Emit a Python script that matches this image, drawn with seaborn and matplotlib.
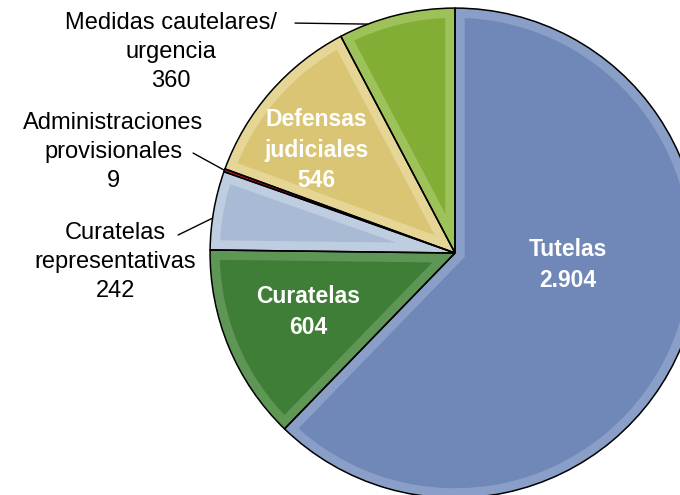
import numpy as np
import seaborn as sns
import matplotlib.pyplot as plt
from matplotlib.patches import Wedge

# datos del gráfico
categorias = ['Tutelas', 'Curatelas', 'Curatelas representativas',
              'Administraciones provisionales', 'Defensas judiciales',
              'Medidas cautelares/urgencia']
valores = [2904, 604, 242, 9, 546, 360]
etiquetas_ext = ['Medidas cautelares/\nurgencia\n360',
                 'Administraciones\nprovisionales\n9',
                 'Curatelas\nrepresentativas\n242']
etiquetas_int = ['Tutelas\n2.904', 'Curatelas\n604', 'Defensas\njudiciales\n546']
colores = ['#6F88B8', '#3F7E37', '#A9BAD4', '#D0102A', '#D9C574', '#82AE35']
bordes = ['#8A9FC8', '#5E9656', '#BFCDE0', '#D0102A', '#E6D696', '#9DC25A']

sns.set_theme(style='white')
plt.rcParams['font.family'] = ['Liberation Sans', 'DejaVu Sans']
plt.rcParams['text.color'] = 'black'

fig = plt.figure(figsize=(6.8, 4.95), dpi=100)
ax = fig.add_axes([0, 0, 1, 1])

# relleno
wedges, _ = ax.pie(valores, colors=colores, startangle=90, counterclock=False,
                   radius=1, wedgeprops={'linewidth': 0})

# borde interior claro (efecto bisel), recortado a cada porción
for w, b in zip(wedges, bordes):
    rim = Wedge(w.center, w.r, w.theta1, w.theta2, facecolor='none',
                edgecolor=b, linewidth=14)
    ax.add_patch(rim)
    rim.set_clip_path(w)

# contorno negro
ax.pie(valores, colors=colores, startangle=90, counterclock=False, radius=1,
       wedgeprops={'fill': False, 'edgecolor': 'black', 'linewidth': 1.1})

ax.set_xlim(-1.857, 0.918)
ax.set_ylim(-0.988, 1.033)
ax.set_aspect('equal')
ax.axis('off')

def punto_px(x, y):
    return ((x - 455) / 245, (253 - y) / 245)

# etiquetas internas
for txt, pos in zip(etiquetas_int, [(568, 265), (308, 312), (316, 150)]):
    ax.text(*punto_px(*pos), txt, color='white', fontsize=16.5,
            fontweight='bold', ha='center', va='center', linespacing=1.4)

# etiquetas externas
for txt, pos in zip(etiquetas_ext, [(171, 52), (113, 152), (115, 262)]):
    ax.text(*punto_px(*pos), txt, fontsize=17, ha='center', va='center',
            linespacing=1.4)

# líneas guía: del texto al borde de la porción
total = sum(valores)
ang = 90 - np.cumsum([0] + valores)[:-1] / total * 360
def borde(i, frac):
    a = np.radians(ang[i] - frac * valores[i] / total * 360)
    return (np.cos(a), np.sin(a))

guias = [(5, 0.25, (295, 23)), (3, 0.5, (193, 153)), (2, 0.4, (178, 235))]
for i, frac, ini in guias:
    ax.annotate('', xy=borde(i, frac), xytext=punto_px(*ini),
                arrowprops=dict(arrowstyle='-', color='black', lw=1,
                                shrinkA=0, shrinkB=0))

plt.savefig('out.png', dpi=100)
